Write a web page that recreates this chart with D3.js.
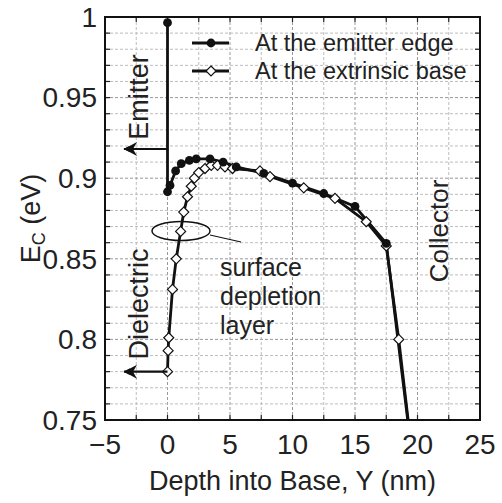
<!DOCTYPE html>
<html>
<head>
<meta charset="utf-8">
<script src="https://cdn.jsdelivr.net/npm/d3@7"></script>
<style>
  body { margin: 0; background: #fff; }
  text { font-family: "Liberation Sans", Arial, sans-serif; fill: #222; }
</style>
</head>
<body>
<div id="chart"></div>
<script>
// Emitter edge (filled circles)
const emitterX = [0, 0, 0.2, 0.65, 1.1, 1.75, 2.3, 3.4, 4.45, 5.5, 7.7, 10, 12.5, 15, 17.5, 20];
const emitterY = [0.9965, 0.8916, 0.8955, 0.9045, 0.909, 0.911, 0.912, 0.912, 0.910, 0.907, 0.903, 0.897, 0.8905, 0.8825, 0.8596, 0.70];

// Extrinsic base (open diamonds)
const baseX = [0, 0.05, 0.1, 0.4, 0.7, 1.05, 1.3, 1.6, 1.9, 2.15, 2.5, 3, 3.5, 4, 4.6, 5.2, 7.4, 8.2, 10.9, 13.4, 15.9, 17.5, 18.5, 20];
const baseY = [0.780, 0.793, 0.801, 0.831, 0.850, 0.867, 0.879, 0.8885, 0.895, 0.900, 0.9035, 0.906, 0.908, 0.908, 0.907, 0.906, 0.9045, 0.901, 0.894, 0.8875, 0.873, 0.858, 0.800, 0.70];

const xTicks = [-5, 0, 5, 10, 15, 20, 25];
const yTicks = [0.75, 0.8, 0.85, 0.9, 0.95, 1];
const legendLabels = ["At the emitter edge", "At the extrinsic base"];

const W = 502, H = 503;
const margin = { top: 17, right: 22, bottom: 83, left: 105 };

const x = d3.scaleLinear().domain([-5, 25]).range([margin.left, W - margin.right]);
const y = d3.scaleLinear().domain([0.75, 1]).range([H - margin.bottom, margin.top]);

const svg = d3.select("#chart").append("svg")
    .attr("width", W)
    .attr("height", H);

svg.append("clipPath").attr("id", "plot")
  .append("rect")
    .attr("x", x(-5)).attr("y", y(1))
    .attr("width", x(25) - x(-5)).attr("height", y(0.75) - y(1));

// grid: every 2.5 nm and every 0.01 eV
const gx = d3.range(-2.5, 25, 2.5);
const gy = d3.range(0.76, 0.995, 0.01);
const grid = svg.append("g").attr("fill", "none").attr("stroke-dasharray", "3,2");
grid.selectAll("line.vx").data(gx).join("line")
    .attr("x1", d => x(d)).attr("x2", d => x(d))
    .attr("y1", y(1)).attr("y2", y(0.75))
    .attr("stroke", d => d % 5 === 0 ? "#999" : "#bdbdbd")
    .attr("stroke-width", 1);
grid.selectAll("line.hy").data(gy).join("line")
    .attr("y1", d => y(d)).attr("y2", d => y(d))
    .attr("x1", x(-5)).attr("x2", x(25))
    .attr("stroke", d => Math.abs(d * 20 - Math.round(d * 20)) < 1e-6 ? "#999" : "#bdbdbd")
    .attr("stroke-width", 1);

// inward ticks on all sides
const ticks = svg.append("g").attr("stroke", "#222").attr("stroke-width", 1.2);
gx.forEach(d => {
  ticks.append("line").attr("x1", x(d)).attr("x2", x(d)).attr("y1", y(0.75)).attr("y2", y(0.75) - 5);
  ticks.append("line").attr("x1", x(d)).attr("x2", x(d)).attr("y1", y(1)).attr("y2", y(1) + 5);
});
gy.forEach(d => {
  ticks.append("line").attr("y1", y(d)).attr("y2", y(d)).attr("x1", x(-5)).attr("x2", x(-5) + 5);
  ticks.append("line").attr("y1", y(d)).attr("y2", y(d)).attr("x1", x(25)).attr("x2", x(25) - 5);
});

// tick labels
const fmt = d3.format("");
svg.append("g").selectAll("text").data(xTicks).join("text")
    .attr("x", d => x(d))
    .attr("y", y(0.75) + 34)
    .attr("text-anchor", "middle")
    .attr("font-size", 28)
    .text(d => d < 0 ? "\u2212" + Math.abs(d) : d);
svg.append("g").selectAll("text").data(yTicks).join("text")
    .attr("x", x(-5) - 8)
    .attr("y", d => y(d))
    .attr("dy", "0.35em")
    .attr("text-anchor", "end")
    .attr("font-size", 28)
    .text(d => fmt(d));

// axis titles
svg.append("text")
    .attr("x", (x(-5) + x(25)) / 2)
    .attr("y", H - 13)
    .attr("text-anchor", "middle")
    .attr("font-size", 27)
    .text("Depth into Base, Y (nm)");
const yl = svg.append("text")
    .attr("transform", `translate(40,${(y(0.75) + y(1)) / 2}) rotate(-90)`)
    .attr("text-anchor", "middle")
    .attr("font-size", 27);
yl.append("tspan").text("E");
yl.append("tspan").attr("font-size", 18).attr("dy", 5).text("C");
yl.append("tspan").attr("dy", -5).text(" (eV)");

// series
const line = d3.line().x(d => x(d[0])).y(d => y(d[1]));
const emitter = d3.zip(emitterX, emitterY);
const base = d3.zip(baseX, baseY);
const diamond = d3.symbol().type(d3.symbolDiamond2).size(64);

const plot = svg.append("g").attr("clip-path", "url(#plot)");
plot.append("path").datum(base)
    .attr("d", line).attr("fill", "none").attr("stroke", "#111").attr("stroke-width", 2.8);
plot.append("path").datum(emitter)
    .attr("d", line).attr("fill", "none").attr("stroke", "#111").attr("stroke-width", 2.8);
plot.selectAll("path.dm").data(base).join("path")
    .attr("class", "dm")
    .attr("transform", d => `translate(${x(d[0])},${y(d[1])})`)
    .attr("d", diamond)
    .attr("fill", "#fff").attr("stroke", "#111").attr("stroke-width", 1.2);
plot.selectAll("circle").data(emitter).join("circle")
    .attr("cx", d => x(d[0])).attr("cy", d => y(d[1]))
    .attr("r", 4.4).attr("fill", "#111");

// frame
svg.append("rect")
    .attr("x", x(-5)).attr("y", y(1))
    .attr("width", x(25) - x(-5)).attr("height", y(0.75) - y(1))
    .attr("fill", "none").attr("stroke", "#111").attr("stroke-width", 2);

// legend
const lg = svg.append("g");
legendLabels.forEach((t, i) => {
  const ly = 43 + i * 28;
  lg.append("line").attr("x1", 192).attr("x2", 229).attr("y1", ly).attr("y2", ly)
    .attr("stroke", "#111").attr("stroke-width", 2.8);
  if (i === 0) {
    lg.append("circle").attr("cx", 211).attr("cy", ly).attr("r", 4.4).attr("fill", "#111");
  } else {
    lg.append("path").attr("transform", `translate(211,${ly})`).attr("d", diamond)
      .attr("fill", "#fff").attr("stroke", "#111").attr("stroke-width", 1.2);
  }
  lg.append("text").attr("x", 255).attr("y", ly + 8).attr("font-size", 23.5).text(t);
});

// annotations
svg.append("defs").append("marker")
    .attr("id", "arrow").attr("viewBox", "0 0 10 10")
    .attr("refX", 9).attr("refY", 5)
    .attr("markerWidth", 7).attr("markerHeight", 7)
    .attr("markerUnits", "userSpaceOnUse")
    .attr("orient", "auto")
  .append("path").attr("d", "M0,0 L10,5 L0,10 L3,5 Z").attr("fill", "#111");

const ann = svg.append("g");
[149, y(0.78)].forEach(ay => {
  ann.append("line").attr("x1", x(0)).attr("x2", 124).attr("y1", ay).attr("y2", ay)
    .attr("stroke", "#111").attr("stroke-width", 2.2)
    .attr("marker-end", "url(#arrow)");
  ann.append("path").attr("d", `M124,${ay} L137,${ay - 7} L133,${ay} L137,${ay + 7} Z`).attr("fill", "#111");
});

ann.append("text").attr("transform", "translate(148,97) rotate(-90)")
    .attr("text-anchor", "middle").attr("font-size", 27).text("Emitter");
ann.append("text").attr("transform", "translate(148,304) rotate(-90)")
    .attr("text-anchor", "middle").attr("font-size", 27).text("Dielectric");
ann.append("text").attr("transform", "translate(448,231) rotate(-90)")
    .attr("text-anchor", "middle").attr("font-size", 26).text("Collector");

["surface", "depletion", "layer"].forEach((t, i) => {
  ann.append("text").attr("x", 220).attr("y", 276 + i * 29).attr("font-size", 25).text(t);
});
ann.append("ellipse").attr("cx", 181).attr("cy", 231).attr("rx", 29).attr("ry", 9.5)
    .attr("fill", "none").attr("stroke", "#111").attr("stroke-width", 1.5);
ann.append("line").attr("x1", 210).attr("y1", 235).attr("x2", 241).attr("y2", 242)
    .attr("stroke", "#111").attr("stroke-width", 1.2);
</script>
</body>
</html>
